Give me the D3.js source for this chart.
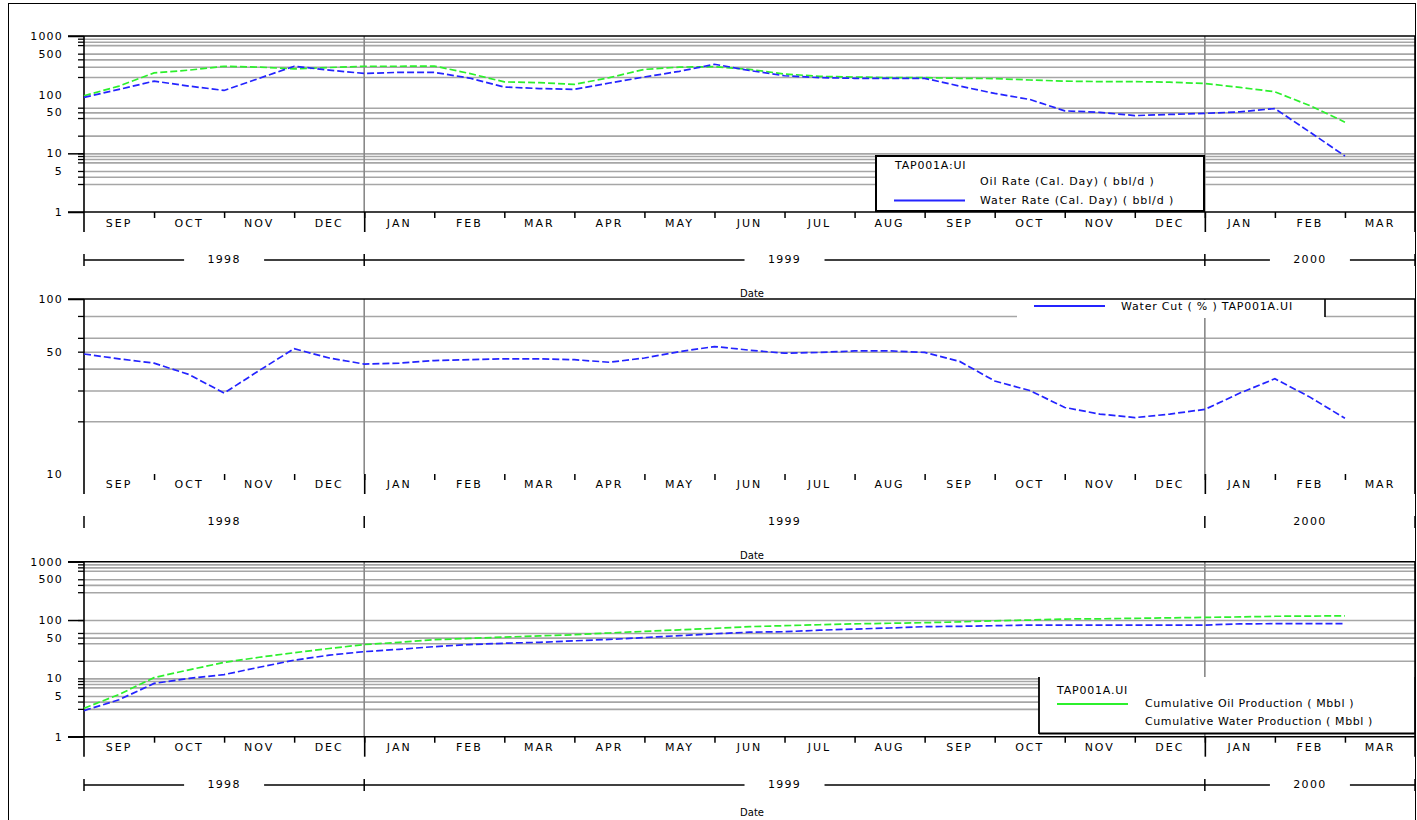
<!DOCTYPE html>
<html>
<head>
<meta charset="utf-8">
<script src="https://cdn.jsdelivr.net/npm/d3@7"></script>
<style>
  body { margin: 0; background: #fff; }
  svg { display: block; font-family: "DejaVu Sans", "Liberation Sans", Arial, sans-serif; }
</style>
</head>
<body>
<svg id="chart" width="1417" height="820"></svg>
<script>
// ---- data ---------------------------------------------------------------
const months = ["SEP","OCT","NOV","DEC","JAN","FEB","MAR","APR","MAY","JUN",
                "JUL","AUG","SEP","OCT","NOV","DEC","JAN","FEB","MAR"];
const yearLabels = ["1998", "1999", "2000"];
const yearBounds = [0, 4, 16, 19];   // month index where each year starts / ends

const dates = [
  "1998-09-01","1998-09-16","1998-10-01","1998-10-16","1998-11-01","1998-11-16",
  "1998-12-01","1998-12-16","1999-01-01","1999-01-16","1999-02-01","1999-02-16",
  "1999-03-01","1999-03-16","1999-04-01","1999-04-16","1999-05-01","1999-05-16",
  "1999-06-01","1999-06-16","1999-07-01","1999-07-16","1999-08-01","1999-08-16",
  "1999-09-01","1999-09-16","1999-10-01","1999-10-16","1999-11-01","1999-11-16",
  "1999-12-01","1999-12-16","2000-01-01","2000-01-16","2000-02-01","2000-02-16",
  "2000-03-01"
];

// Oil / water rate, calendar day (bbl/d)
const oilRate = [96,140,235,262,305,295,275,290,305,305,308,230,165,160,150,195,270,295,300,
                 270,225,205,200,195,195,190,188,178,170,167,167,163,155,133,112,65,34];
const waterRate = [90,123,170,140,118,190,305,262,230,240,240,192,135,127,123,158,200,250,330,
                   258,210,195,190,190,190,140,105,83,53,50,44,46,48,51,58,23,9];

// Water cut (%)
const waterCut = [48.5,45.5,43,37,29,39,52,46,42.5,43,44.5,45,45.5,45.5,45,43.5,46,50,53.5,
                  51,49,49.5,50.5,50.5,49.5,44,34,30,24,22,21,22,23.4,29,35,27.5,20.8];

// Cumulative production (Mbbl)
const cumOil = [3.07,5.3,10.3,14,18.8,23,27.5,32.5,38,41.5,46,48.5,51,53.5,56,60,64,68,72,
                77,80,83,86,88,90,93,97,100,104,105,107,109,111,113,116,117,118];
const cumWater = [2.8,4.3,8.2,10,11.6,15.5,20.5,25,28.7,31.5,35,38,40,41.5,44,46.5,50,54,58,
                  62,63,67,70,73,77,78,80,82,82,82,82,82,82,86,86.5,86.5,86.5];

// axis values
const rateGrid = [900,800,700,500,400,300,200,60,50,40,20,10,9,8,7,5,4,3];
const cutGrid = [80,60,50,40,30,20];
const cumGrid = [900,800,700,500,400,300,100,60,50,40,20,10,9,8,7,5,4,3];
const logLabels = [1000,500,100,50,10,5,1];
const cutLabels = [100,50,10];

// ---- layout -------------------------------------------------------------
const svg = d3.select("#chart");
const X0 = 84, X1 = 1415;
const x = d3.scaleLinear().domain([0, months.length]).range([X0, X1]);
const GREEN = "#2cf02c", BLUE = "#2424ff", GRID = "#a6a6a6";
const FS = 11;

function monthPos(s) {
  const [yy, mm, dd] = s.split("-").map(Number);
  return (yy - 1998) * 12 + (mm - 9) + (dd - 1) / 30;
}
const t = dates.map(monthPos);

// outer frame
svg.append("rect").attr("x", 8.5).attr("y", 3.5).attr("width", X1 - 8).attr("height", 830)
  .attr("fill", "none").attr("stroke", "#000").attr("stroke-width", 1);

function drawPanel(p) {
  const g = svg.append("g");
  const y = d3.scaleLog().domain(p.domain).range([p.bottom, p.top]);

  // horizontal grid
  g.append("g").attr("transform", `translate(${X0},0)`)
    .call(d3.axisLeft(y).tickValues(p.grid).tickSize(-(X1 - X0)).tickFormat(""))
    .call(s => s.select(".domain").remove())
    .call(s => s.selectAll("line").attr("stroke", GRID).attr("stroke-width", 1.6));

  // year dividers inside the plot
  g.selectAll(".ydiv").data([yearBounds[1], yearBounds[2]]).join("line")
    .attr("x1", d => x(d)).attr("x2", d => x(d))
    .attr("y1", p.top).attr("y2", p.bottom)
    .attr("stroke", "#888").attr("stroke-width", 1.6);

  // minor ticks, long ticks and labels on the value axis
  g.append("g").attr("transform", `translate(${X0},0)`)
    .call(d3.axisLeft(y).tickValues(p.grid).tickSize(6).tickFormat(""))
    .call(s => s.select(".domain").remove())
    .call(s => s.selectAll("line").attr("stroke", "#000").attr("stroke-width", 1.3));
  g.append("g").attr("transform", `translate(${X0},0)`)
    .call(d3.axisLeft(y).tickValues(p.major).tickSize(16).tickFormat(""))
    .call(s => s.select(".domain").remove())
    .call(s => s.selectAll("line").attr("stroke", "#000").attr("stroke-width", 1.5));
  g.append("g").attr("transform", `translate(${X0},0)`)
    .call(d3.axisLeft(y).tickValues(p.labels).tickSize(0).tickPadding(21).tickFormat(d3.format("d")))
    .call(s => s.select(".domain").remove())
    .call(s => s.selectAll("text").attr("font-size", FS).attr("font-family", "DejaVu Sans")
      .attr("letter-spacing", 1.2).attr("fill", "#000"));

  // frame
  const fr = g.append("g").attr("stroke", "#000").attr("stroke-width", 1.6);
  fr.append("line").attr("x1", 68).attr("x2", X1).attr("y1", p.top).attr("y2", p.top);
  fr.append("line").attr("x1", X0).attr("x2", X0).attr("y1", p.top).attr("y2", p.bottom + 20);
  fr.append("line").attr("x1", X1).attr("x2", X1).attr("y1", p.top).attr("y2", p.bottom + 20);
  if (p.axisLine) fr.append("line").attr("x1", 68).attr("x2", X1).attr("y1", p.bottom).attr("y2", p.bottom);

  // month ticks and year-boundary ticks
  g.append("g").attr("transform", `translate(0,${p.bottom})`)
    .call(d3.axisBottom(x).tickValues(d3.range(1, months.length)).tickSize(6).tickFormat(""))
    .call(s => s.select(".domain").remove())
    .call(s => s.selectAll("line").attr("stroke", "#000").attr("stroke-width", 1.5));
  g.append("g").attr("transform", `translate(0,${p.bottom})`)
    .call(d3.axisBottom(x).tickValues(yearBounds.slice(1, 3)).tickSize(20).tickFormat(""))
    .call(s => s.select(".domain").remove())
    .call(s => s.selectAll("line").attr("stroke", "#000").attr("stroke-width", 1.6));

  // month labels
  g.selectAll(".mlab").data(months).join("text")
    .attr("x", (d, i) => x(i + 0.5)).attr("y", p.monthY)
    .attr("text-anchor", "middle").attr("dominant-baseline", "middle")
    .attr("font-size", FS).attr("letter-spacing", 2).text(d => d);

  // year row
  const yr = g.append("g");
  yr.selectAll("line.tk").data(yearBounds).join("line")
    .attr("x1", d => x(d)).attr("x2", d => x(d))
    .attr("y1", p.yearY - 6).attr("y2", p.yearY + 6)
    .attr("stroke", "#000").attr("stroke-width", 1.5);
  yearLabels.forEach((lab, i) => {
    const a = x(yearBounds[i]), b = x(yearBounds[i + 1]), c = (a + b) / 2;
    yr.append("text").attr("x", c).attr("y", p.yearY)
      .attr("text-anchor", "middle").attr("dominant-baseline", "middle")
      .attr("font-size", FS).attr("letter-spacing", 1.3).text(lab);
    if (p.yearLines) {
      yr.append("line").attr("x1", a).attr("x2", c - 40).attr("y1", p.yearY).attr("y2", p.yearY)
        .attr("stroke", "#000").attr("stroke-width", 1.3);
      yr.append("line").attr("x1", c + 40).attr("x2", b).attr("y1", p.yearY).attr("y2", p.yearY)
        .attr("stroke", "#000").attr("stroke-width", 1.3);
    }
  });

  g.append("text").attr("x", 752).attr("y", p.dateY)
    .attr("text-anchor", "middle").attr("dominant-baseline", "middle")
    .attr("font-size", 10).text("Date");

  // series
  const line = d3.line().x((d, i) => x(t[i])).y(d => y(d));
  p.series.forEach(s => {
    g.append("path").datum(s.values)
      .attr("d", line).attr("fill", "none")
      .attr("stroke", s.color).attr("stroke-width", 1.7)
      .attr("stroke-dasharray", "7,3");
  });
  return g;
}

// ---- panel 1: rates -----------------------------------------------------
const g1 = drawPanel({
  top: 36, bottom: 212, domain: [1, 1000],
  grid: rateGrid, major: [1000, 10, 1], labels: logLabels, axisLine: true,
  monthY: 224, yearY: 260, yearLines: true, dateY: 294,
  series: [{ values: oilRate, color: GREEN }, { values: waterRate, color: BLUE }]
});
const l1 = g1.append("g");
l1.append("rect").attr("x", 876).attr("y", 156).attr("width", 328).attr("height", 55)
  .attr("fill", "#fff").attr("stroke", "#000").attr("stroke-width", 2);
l1.append("text").attr("x", 895).attr("y", 166).attr("dominant-baseline", "middle")
  .attr("font-size", FS).attr("letter-spacing", 0.8).text("TAP001A:UI");
l1.append("text").attr("x", 980).attr("y", 182).attr("dominant-baseline", "middle")
  .attr("font-size", FS).attr("letter-spacing", 0.9).text("Oil Rate (Cal. Day) ( bbl/d )");
l1.append("line").attr("x1", 894).attr("x2", 965).attr("y1", 200.5).attr("y2", 200.5)
  .attr("stroke", BLUE).attr("stroke-width", 1.8);
l1.append("text").attr("x", 980).attr("y", 201).attr("dominant-baseline", "middle")
  .attr("font-size", FS).attr("letter-spacing", 0.9).text("Water Rate (Cal. Day) ( bbl/d )");

// ---- panel 2: water cut -------------------------------------------------
const g2 = drawPanel({
  top: 299, bottom: 474, domain: [10, 100],
  grid: cutGrid, major: [100], labels: cutLabels, axisLine: false,
  monthY: 485, yearY: 522, yearLines: false, dateY: 556,
  series: [{ values: waterCut, color: BLUE }]
});
const l2 = g2.append("g");
l2.append("rect").attr("x", 1017).attr("y", 300).attr("width", 308).attr("height", 18)
  .attr("fill", "#fff");
l2.append("line").attr("x1", 1325).attr("x2", 1325).attr("y1", 299).attr("y2", 317)
  .attr("stroke", "#000").attr("stroke-width", 1.6);
l2.append("line").attr("x1", 1034).attr("x2", 1105).attr("y1", 306).attr("y2", 306)
  .attr("stroke", BLUE).attr("stroke-width", 1.8);
l2.append("text").attr("x", 1121).attr("y", 307).attr("dominant-baseline", "middle")
  .attr("font-size", FS).attr("letter-spacing", 0.8).text("Water Cut ( % ) TAP001A.UI");

// ---- panel 3: cumulative production ------------------------------------
const g3 = drawPanel({
  top: 561.7, bottom: 736.7, domain: [1, 1000],
  grid: cumGrid, major: [1000, 100, 1], labels: logLabels, axisLine: true,
  monthY: 748, yearY: 785, yearLines: true, dateY: 813,
  series: [{ values: cumOil, color: GREEN }, { values: cumWater, color: BLUE }]
});
const l3 = g3.append("g");
l3.append("rect").attr("x", 1039).attr("y", 677).attr("width", X1 - 1039).attr("height", 56)
  .attr("fill", "#fff");
l3.append("line").attr("x1", 1039).attr("x2", 1039).attr("y1", 677).attr("y2", 734)
  .attr("stroke", "#000").attr("stroke-width", 1.8);
l3.append("line").attr("x1", 1039).attr("x2", X1).attr("y1", 733.5).attr("y2", 733.5)
  .attr("stroke", "#000").attr("stroke-width", 1.8);
l3.append("line").attr("x1", X1).attr("x2", X1).attr("y1", 677).attr("y2", 734)
  .attr("stroke", "#000").attr("stroke-width", 1.8);
l3.append("text").attr("x", 1057).attr("y", 691).attr("dominant-baseline", "middle")
  .attr("font-size", FS).attr("letter-spacing", 0.8).text("TAP001A.UI");
l3.append("line").attr("x1", 1057).attr("x2", 1128).attr("y1", 704).attr("y2", 704)
  .attr("stroke", GREEN).attr("stroke-width", 1.8);
l3.append("text").attr("x", 1145).attr("y", 704).attr("dominant-baseline", "middle")
  .attr("font-size", FS).attr("letter-spacing", 0.6).text("Cumulative Oil Production ( Mbbl )");
l3.append("text").attr("x", 1145).attr("y", 722).attr("dominant-baseline", "middle")
  .attr("font-size", FS).attr("letter-spacing", 0.6).text("Cumulative Water Production ( Mbbl )");
</script>
</body>
</html>
